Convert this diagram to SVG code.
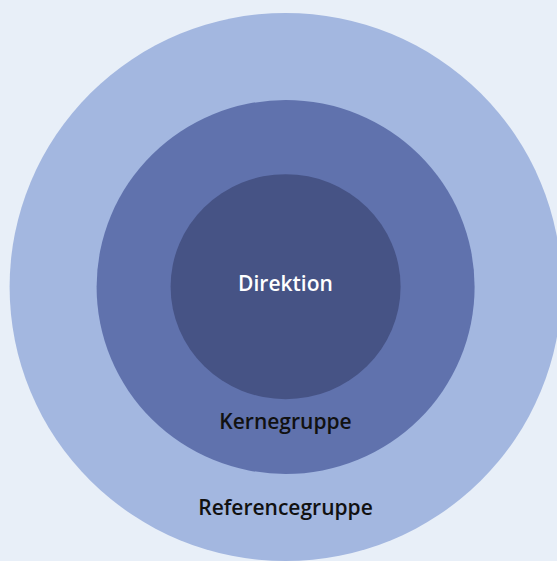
<svg xmlns="http://www.w3.org/2000/svg" width="557" height="561" viewBox="0 0 557 561">
<style>
.lbl{font-family:"Open Sans","Noto Sans",sans-serif;font-size:21px;font-weight:600;text-anchor:middle}
.dark{fill:#111111}
.light{fill:#ffffff}
</style>
<rect x="0" y="0" width="557" height="561" fill="#E8EFF8"/>
<g id="referencegruppe">
<ellipse cx="285.6" cy="287" rx="276" ry="274" fill="#A3B7E0"/>
<text class="lbl dark" x="285.5" y="515">Referencegruppe</text>
</g>
<g id="kernegruppe">
<ellipse cx="285.6" cy="287" rx="189" ry="187" fill="#6072AD"/>
<text class="lbl dark" x="285.5" y="429">Kernegruppe</text>
</g>
<g id="direktion">
<ellipse cx="285.6" cy="286.7" rx="115" ry="112.5" fill="#465385"/>
<text class="lbl light" x="285.5" y="291">Direktion</text>
</g>
<g id="connectors"/>
</svg>
